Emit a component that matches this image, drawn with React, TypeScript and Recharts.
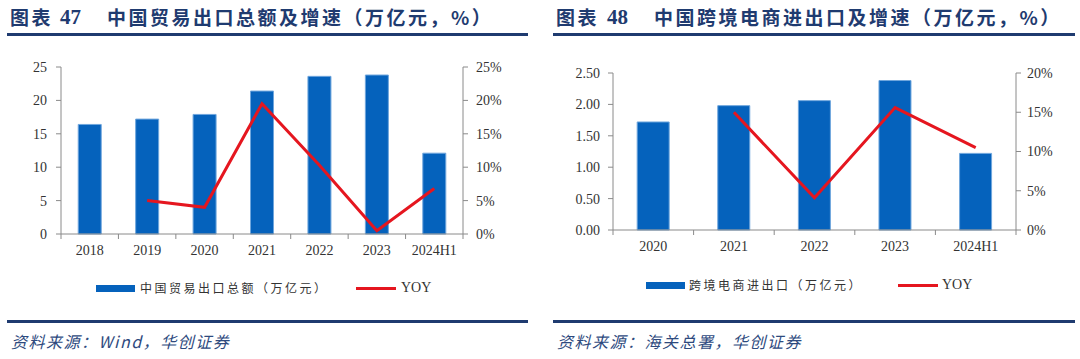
import { ComposedChart, Bar, Line, XAxis, YAxis, Legend } from "recharts";

// 图表47 数据
const tradeYears = ["2018", "2019", "2020", "2021", "2022", "2023", "2024H1"];
const tradeExport = [16.4, 17.2, 17.9, 21.4, 23.6, 23.8, 12.1];
const tradeYoy: (number | null)[] = [null, 5.0, 4.0, 19.5, 10.3, 0.5, 6.8];
const tradeLeftTicks = [0, 5, 10, 15, 20, 25];
const tradeRightTicks = [0, 5, 10, 15, 20, 25];

// 图表48 数据
const cbecYears = ["2020", "2021", "2022", "2023", "2024H1"];
const cbecValue = [1.72, 1.98, 2.06, 2.38, 1.22];
const cbecYoy: (number | null)[] = [null, 15.0, 4.1, 15.6, 10.5];
const cbecLeftTicks = [0, 0.5, 1, 1.5, 2, 2.5];
const cbecRightTicks = [0, 5, 10, 15, 20];

const BLUE = "#0562BC";
const RED = "#E5161F";
const AXIS = "#8A8A8A";
const NAVY = "#1F3B70";
const TICK_FONT = { fontFamily: "Liberation Serif", fontSize: 14, fill: "#333" };

const tradeData = tradeYears.map((year, i) => ({ year, value: tradeExport[i], yoy: tradeYoy[i] }));
const cbecData = cbecYears.map((year, i) => ({ year, value: cbecValue[i], yoy: cbecYoy[i] }));

// ticks sit between categories, label at centre
function makeXTick(band: number, count: number) {
  return (props: any) => {
    const { x, y, payload, index } = props;
    return (
      <g>
        <line x1={x - band / 2} x2={x - band / 2} y1={y} y2={y + 5} stroke={AXIS} />
        {index === count - 1 && (
          <line x1={x + band / 2} x2={x + band / 2} y1={y} y2={y + 5} stroke={AXIS} />
        )}
        <text x={x} y={y + 21} textAnchor="middle" {...TICK_FONT}>
          {payload.value}
        </text>
      </g>
    );
  };
}

function makeLegend(barLabel: string, pos: { rect: number; text: number; line: number; yoy: number; top: number }) {
  return () => (
    <div style={{ position: "relative", height: 40, width: 540 }}>
      <div style={{ position: "absolute", left: pos.rect, top: pos.top - 3, width: 39, height: 7, background: BLUE }} />
      <span
        style={{
          position: "absolute",
          left: pos.text,
          top: pos.top - 9,
          fontFamily: "Noto Sans CJK SC",
          fontSize: 12,
          letterSpacing: 2.5,
          color: "#333",
          lineHeight: "18px",
          whiteSpace: "nowrap",
        }}
      >
        {barLabel}
      </span>
      <div style={{ position: "absolute", left: pos.line, top: pos.top - 1.5, width: 40, height: 3, background: RED }} />
      <span
        style={{
          position: "absolute",
          left: pos.yoy,
          top: pos.top - 9,
          fontFamily: "Liberation Serif",
          fontSize: 14,
          color: "#333",
          lineHeight: "18px",
        }}
      >
        YOY
      </span>
    </div>
  );
}

function Header({ no, title, offsets }: { no: string; title: string; offsets: number[] }) {
  const cjk = { fontFamily: "Noto Sans CJK SC", fontWeight: 700, fontSize: 19, letterSpacing: 2.5, color: NAVY };
  return (
    <>
      <span style={{ ...cjk, position: "absolute", left: offsets[0], top: 4, lineHeight: "26px" }}>图表</span>
      <span
        style={{
          position: "absolute",
          left: offsets[1],
          top: 4,
          lineHeight: "26px",
          fontFamily: "Liberation Serif",
          fontWeight: 700,
          fontSize: 21,
          color: NAVY,
        }}
      >
        {no}
      </span>
      <span style={{ ...cjk, position: "absolute", left: offsets[2], top: 4, lineHeight: "26px", whiteSpace: "nowrap" }}>
        {title}
      </span>
      <div style={{ position: "absolute", left: offsets[3], width: offsets[4], top: 33, height: 3, background: NAVY }} />
    </>
  );
}

function Source({ left, width, text }: { left: number; width: number; text: string }) {
  return (
    <>
      <div style={{ position: "absolute", left, width, top: 320, height: 3, background: NAVY }} />
      <span
        style={{
          position: "absolute",
          left: left + 4,
          top: 330,
          lineHeight: "22px",
          fontFamily: "Noto Sans CJK SC",
          fontStyle: "italic",
          fontSize: 16,
          letterSpacing: 1.5,
          color: "#2E4A7E",
          whiteSpace: "nowrap",
        }}
      >
        {text}
      </span>
    </>
  );
}

export default function App() {
  return (
    <div style={{ position: "absolute", left: 0, top: 0, width: 1080, height: 359, background: "#fff", overflow: "hidden" }}>
      {/* 图表 47 */}
      <Header no="47" title="中国贸易出口总额及增速（万亿元，%）" offsets={[10, 60, 107, 7, 521]} />
      <div style={{ position: "absolute", left: 0, top: 0 }}>
        <ComposedChart width={540} height={300} data={tradeData} margin={{ top: 67, right: 0, left: 0, bottom: 0 }} barCategoryGap="30%">
          <XAxis
            dataKey="year"
            height={26}
            stroke={AXIS}
            tickLine={false}
            tickSize={0}
            tickMargin={0}
            interval={0}
            tick={makeXTick(402 / tradeYears.length, tradeYears.length)}
          />
          <YAxis
            yAxisId="left"
            width={61}
            domain={[0, 25]}
            ticks={tradeLeftTicks}
            stroke={AXIS}
            tickSize={5}
            tickMargin={9}
            tick={TICK_FONT}
          />
          <YAxis
            yAxisId="right"
            orientation="right"
            width={77}
            domain={[0, 25]}
            ticks={tradeRightTicks}
            tickFormatter={(v: number) => `${v}%`}
            stroke={AXIS}
            tickSize={5}
            tickMargin={8}
            tick={{ ...TICK_FONT, textAnchor: "start" }}
          />
          <Legend
            verticalAlign="bottom"
            height={40}
            wrapperStyle={{ left: 0, top: 260, width: 540, height: 40 }}
            content={makeLegend("中国贸易出口总额（万亿元）", { rect: 96, text: 140, line: 356, yoy: 401, top: 28 })}
          />
          <Bar yAxisId="left" dataKey="value" name="中国贸易出口总额（万亿元）" fill={BLUE} stroke="#6FA6DD" strokeWidth={1} isAnimationActive={false} />
          <Line yAxisId="right" dataKey="yoy" name="YOY" stroke={RED} strokeWidth={3} dot={false} isAnimationActive={false} />
        </ComposedChart>
      </div>
      <Source left={7} width={521} text="资料来源：Wind，华创证券" />

      {/* 图表 48 */}
      <div style={{ position: "absolute", left: 540, top: 0, width: 540, height: 359 }}>
        <Header no="48" title="中国跨境电商进出口及增速（万亿元，%）" offsets={[16, 67, 114, 13, 522]} />
        <div style={{ position: "absolute", left: 0, top: 0 }}>
          <ComposedChart width={540} height={300} data={cbecData} margin={{ top: 73, right: 0, left: 0, bottom: 0 }} barCategoryGap="30%">
            <XAxis
              dataKey="year"
              height={30}
              stroke={AXIS}
              tickLine={false}
              tickSize={0}
              tickMargin={0}
              interval={0}
              tick={makeXTick(403 / cbecYears.length, cbecYears.length)}
            />
            <YAxis
              yAxisId="left"
              width={73}
              domain={[0, 2.5]}
              ticks={cbecLeftTicks}
              tickFormatter={(v: number) => v.toFixed(2)}
              stroke={AXIS}
              tickSize={5}
              tickMargin={8}
              tick={TICK_FONT}
            />
            <YAxis
              yAxisId="right"
              orientation="right"
              width={64}
              domain={[0, 20]}
              ticks={cbecRightTicks}
              tickFormatter={(v: number) => `${v}%`}
              stroke={AXIS}
              tickSize={5}
              tickMargin={6}
              tick={{ ...TICK_FONT, textAnchor: "start" }}
            />
            <Legend
              verticalAlign="bottom"
              height={40}
              wrapperStyle={{ left: 0, top: 260, width: 540, height: 40 }}
              content={makeLegend("跨境电商进出口（万亿元）", { rect: 106, text: 149, line: 358, yoy: 402, top: 25 })}
            />
            <Bar yAxisId="left" dataKey="value" name="跨境电商进出口（万亿元）" fill={BLUE} stroke="#6FA6DD" strokeWidth={1} isAnimationActive={false} />
            <Line yAxisId="right" dataKey="yoy" name="YOY" stroke={RED} strokeWidth={3} dot={false} isAnimationActive={false} />
          </ComposedChart>
        </div>
        <Source left={13} width={522} text="资料来源：海关总署，华创证券" />
      </div>
    </div>
  );
}
